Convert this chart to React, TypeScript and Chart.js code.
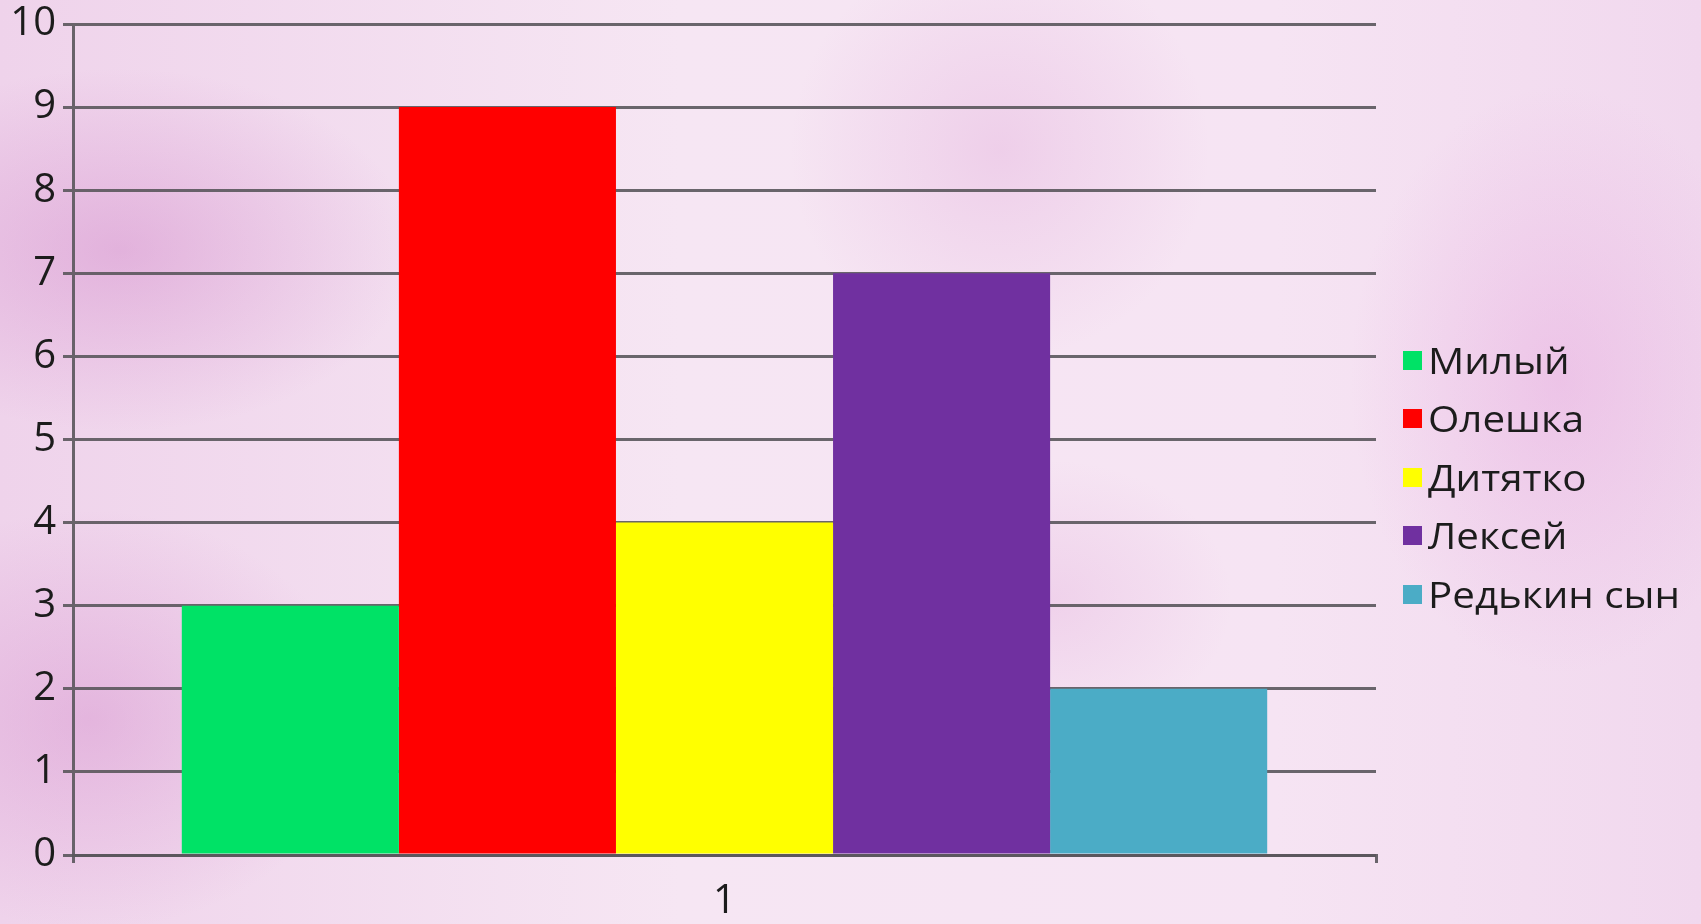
import React, { useEffect, useRef } from "react";
import { Chart, registerables } from "chart.js";

Chart.register(...registerables);

const categories = ["1"];
const seriesNames = ["Милый", "Олешка", "Дитятко", "Лексей", "Редькин сын"];
const seriesValues = [3, 9, 4, 7, 2];
const seriesColors = ["#00e266", "#ff0000", "#ffff00", "#7030a0", "#4bacc6"];
const yMin = 0;
const yMax = 10;
const yStep = 1;

const gridColor = "rgba(90,86,92,0.9)";
const textColor = "#1c1c1c";
const tickFont = { family: "'Open Sans', sans-serif", size: 40 };

export default function App() {
  const ref = useRef<HTMLCanvasElement>(null);

  useEffect(() => {
    if (!ref.current) return;
    const chart = new Chart(ref.current, {
      type: "bar",
      data: {
        labels: categories,
        datasets: seriesNames.map((name, i) => ({
          label: name,
          data: [seriesValues[i]],
          backgroundColor: seriesColors[i],
          borderWidth: 0,
          categoryPercentage: 0.833,
          barPercentage: 1,
        })),
      },
      options: {
        animation: false,
        responsive: false,
        maintainAspectRatio: false,
        layout: { padding: { top: 24, right: 325, left: 0, bottom: 0 } },
        plugins: {
          legend: { display: false },
          tooltip: { enabled: false },
        },
        scales: {
          x: {
            grid: {
              offset: true,
              drawOnChartArea: false,
              tickLength: 8,
              color: gridColor,
              lineWidth: 3,
            },
            border: { display: true, color: gridColor, width: 3 },
            ticks: { font: tickFont, color: textColor, padding: 15 },
            afterFit: (s: any) => {
              s.height = 69;
              s.paddingLeft = 0;
              s.paddingRight = 0;
            },
          },
          y: {
            min: yMin,
            max: yMax,
            ticks: { stepSize: yStep, font: tickFont, color: textColor, padding: 7 },
            grid: { color: gridColor, lineWidth: 3, tickLength: 10 },
            border: { display: true, color: gridColor, width: 3 },
            afterFit: (s: any) => {
              s.width = 73;
              s.paddingTop = 0;
              s.paddingBottom = 0;
            },
          },
        },
      },
    });
    return () => chart.destroy();
  }, []);

  const bg =
    "radial-gradient(ellipse 420px 260px at 120px 250px, rgba(200,110,190,0.35), rgba(200,110,190,0) 70%)," +
    "radial-gradient(ellipse 380px 300px at 90px 720px, rgba(205,120,195,0.35), rgba(205,120,195,0) 70%)," +
    "radial-gradient(ellipse 300px 420px at 1560px 380px, rgba(225,150,215,0.35), rgba(225,150,215,0) 70%)," +
    "radial-gradient(ellipse 300px 300px at 1000px 150px, rgba(215,140,205,0.25), rgba(215,140,205,0) 70%)," +
    "radial-gradient(ellipse 260px 200px at 1050px 600px, rgba(215,140,205,0.22), rgba(215,140,205,0) 70%)," +
    "linear-gradient(90deg, #efd3eb 0%, #f6e6f3 40%, #f6e4f3 75%, #f1d8ee 100%)";

  return (
    <div
      style={{
        position: "fixed",
        left: 0,
        top: 0,
        width: 1701,
        height: 924,
        background: bg,
        overflow: "hidden",
      }}
    >
      <canvas ref={ref} width={1701} height={924} style={{ position: "absolute", left: 0, top: 0 }} />
      <div style={{ position: "absolute", left: 1403, top: 331 }}>
        {seriesNames.map((name, i) => (
          <div
            key={name}
            style={{ height: 58.5, display: "flex", alignItems: "center", whiteSpace: "nowrap" }}
          >
            <span
              style={{
                display: "inline-block",
                width: 19,
                height: 19,
                background: seriesColors[i],
                marginRight: 6,
              }}
            />
            <span
              style={{
                display: "inline-block",
                fontFamily: "'Open Sans', sans-serif",
                fontSize: 36,
                color: textColor,
                transform: "scaleX(1.12)",
                transformOrigin: "left center",
              }}
            >
              {name}
            </span>
          </div>
        ))}
      </div>
    </div>
  );
}
